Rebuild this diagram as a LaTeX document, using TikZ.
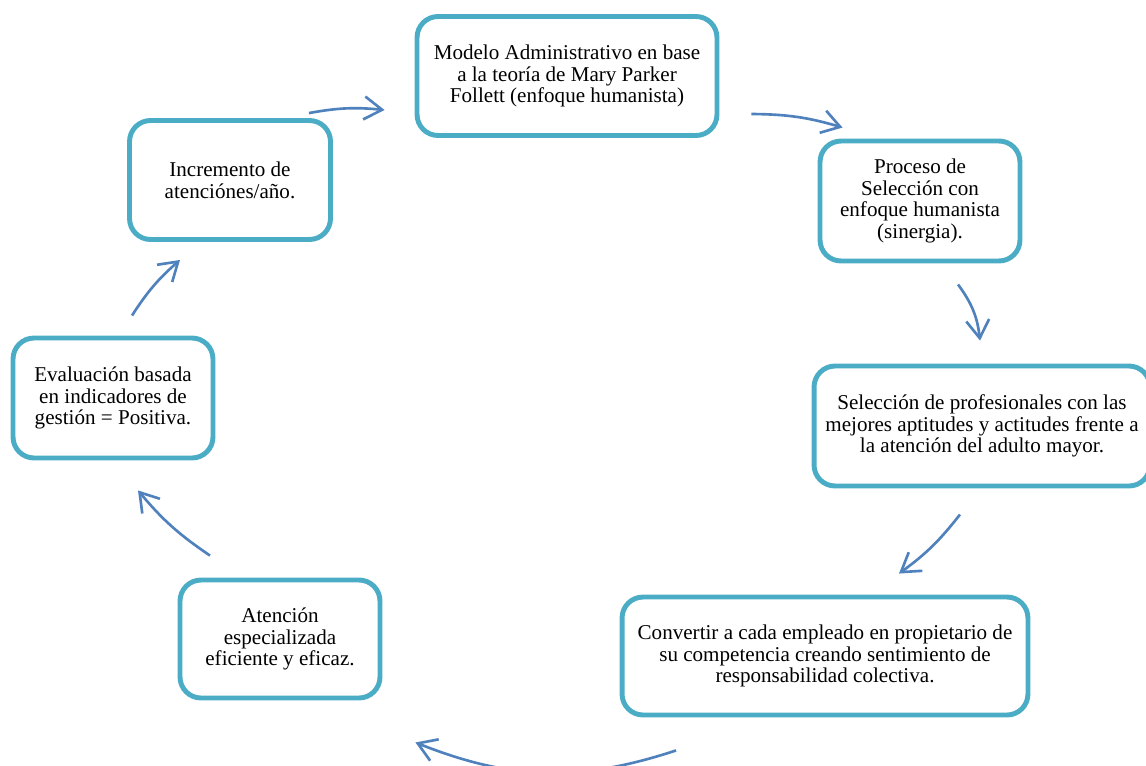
\documentclass[tikz,border=0pt]{standalone}
\usepackage{fontspec}
\setmainfont{Liberation Serif}
\usepackage{tikz}
\usetikzlibrary{arrows.meta, calc}
\definecolor{boxteal}{RGB}{75, 172, 198}
\definecolor{arrowblue}{RGB}{79, 129, 189}

\begin{document}
\begin{tikzpicture}[
    x=0.02cm, y=-0.02cm,
    box/.style={draw=boxteal, line width=2.8pt, rounded corners=0.42cm,
                fill=white, align=center, inner sep=2pt,
                font=\fontsize{12}{12.4}\selectfont},
    arrow/.style={-{Straight Barb[length=0.36cm, width=0.46cm]},
                  line width=1.5pt, color=arrowblue, bend left=#1},
    arrow/.default=12,
]
    \useasboundingbox (0,0) rectangle (1146,765);

    \node[box, minimum width=6.0cm, minimum height=2.38cm] (model) at (567,76)
        {Modelo Administrativo en base\\a la teoría de Mary Parker\\Follett (enfoque humanista)};
    \node[box, minimum width=4.0cm, minimum height=2.4cm] (proc) at (920,201)
        {Proceso de\\Selección con\\enfoque humanista\\(sinergia).};
    \node[box, minimum width=6.72cm, minimum height=2.4cm] (sel) at (982,426)
        {Selección de profesionales con las\\mejores aptitudes y actitudes frente a\\la atención del adulto mayor.};
    \node[box, minimum width=8.12cm, minimum height=2.36cm] (conv) at (825,656)
        {Convertir a cada empleado en propietario de\\su competencia creando sentimiento de\\responsabilidad colectiva.};
    \node[box, minimum width=4.0cm, minimum height=2.36cm] (aten) at (280,639)
        {Atención\\especializada\\eficiente y eficaz.};
    \node[box, minimum width=4.0cm, minimum height=2.4cm] (eval) at (113,398)
        {Evaluación basada\\en indicadores de\\gestión = Positiva.};
    \node[box, minimum width=4.02cm, minimum height=2.38cm] (incr) at (230,180)
        {Incremento de\\atenciónes/año.};

    \draw[arrow=8] ($(incr.north east)+(-24,-5)$) to ($(model.west)+(-30,34)$);
    \draw[arrow=8] ($(model.east)+(32,38)$) to ($(proc.north west)+(25,-11)$);
    \draw[arrow=15] ($(proc.south)+(38,21)$) to ($(sel.north)+(-2,-23)$);
    \draw[arrow=8] ($(sel.south)+(-22,26)$) to ($(conv.north)+(74,-21)$);
    \draw[arrow=20] ($(conv.south)+(-149,33)$) to ($(aten.south east)+(33,42)$);
    \draw[arrow=8] ($(aten.north)+(-70,-22)$) to ($(eval.south)+(25,30)$);
    \draw[arrow=8] ($(eval.north)+(19,-20)$) to ($(incr.south)+(-50,18)$);
\end{tikzpicture}
\end{document}
